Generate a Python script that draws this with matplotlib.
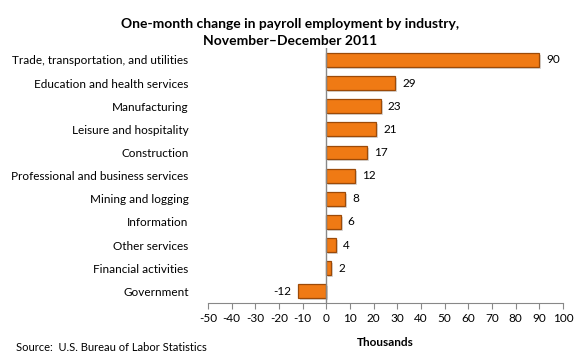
import numpy as np
import matplotlib.pyplot as plt
import matplotlib.transforms as mtransforms

plt.rcParams['font.family'] = ['Lato', 'DejaVu Sans']
plt.rcParams['axes.unicode_minus'] = False

industries = ["Trade, transportation, and utilities", "Education and health services",
              "Manufacturing", "Leisure and hospitality", "Construction",
              "Professional and business services", "Mining and logging",
              "Information", "Other services", "Financial activities", "Government"]
change = [90, 29, 23, 21, 17, 12, 8, 6, 4, 2, -12]

fig = plt.figure(figsize=(5.8, 3.64), dpi=100)
ax = fig.add_axes([0.3586, 0.168, 0.612, 0.699])

y = np.arange(len(industries))[::-1]
# soft shadow, shifted right and down
shadow = mtransforms.offset_copy(ax.transData, fig=fig, x=2, y=-2, units='dots')
ax.barh(y, change, height=0.6, color='#909090', alpha=0.35, transform=shadow, zorder=1)
ax.barh(y, change, height=0.6, color='#f07a14', edgecolor='#9c4a08', linewidth=0.9, zorder=2)

for yi, v in zip(y, change):
    if v >= 0:
        ax.text(v + 3, yi, str(v), va='center', ha='left', fontsize=8.5)
    else:
        ax.text(v - 3, yi, str(v), va='center', ha='right', fontsize=8.5)

ax.set_xlim(-50, 100)
ax.set_ylim(-0.5, len(industries) - 0.5)
ax.set_xticks(np.arange(-50, 101, 10))
ax.tick_params(axis='x', direction='out', length=4, color='#888888', labelsize=8.5, pad=3)
ax.set_yticks(y)
ax.set_yticklabels(industries, fontsize=8.5)
ax.tick_params(axis='y', length=0, pad=14)

for s in ['top', 'right', 'left']:
    ax.spines[s].set_visible(False)
ax.spines['bottom'].set_color('#888888')
ax.axvline(0, color='#888888', linewidth=1, zorder=3)

ax.set_xlabel('Thousands', fontsize=8.5, fontweight='bold', labelpad=10)

fig.text(0.5, 0.95, 'One-month change in payroll employment by industry,\nNovember\u2013December 2011',
         ha='center', va='top', fontsize=10, fontweight='bold', linespacing=1.45)
fig.text(0.028, 0.035, 'Source:  U.S. Bureau of Labor Statistics', fontsize=8, ha='left')

fig.savefig('out.png', dpi=100)
